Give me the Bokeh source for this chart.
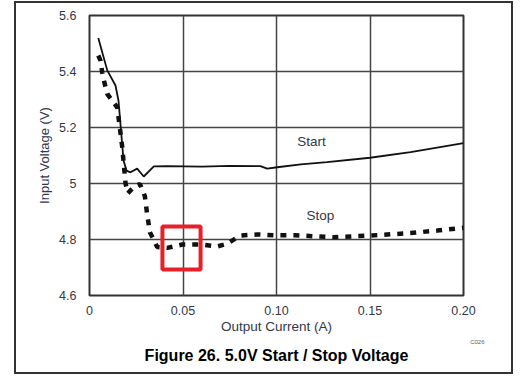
from bokeh.plotting import figure
from bokeh.models import Range1d, FixedTicker, Label, BoxAnnotation, Title, InlineStyleSheet
from bokeh.embed import file_html
from bokeh.resources import INLINE

# ---- data ----
start_x = [0.0047, 0.0095, 0.0139, 0.0155, 0.0182, 0.0198, 0.0219, 0.0255, 0.029, 0.0344,
           0.0415, 0.06, 0.075, 0.0914, 0.095, 0.1004, 0.113, 0.127, 0.15, 0.1717, 0.2]
start_y = [5.52, 5.404, 5.35, 5.296, 5.082, 5.046, 5.04, 5.053, 5.025, 5.061,
           5.062, 5.06, 5.063, 5.062, 5.053, 5.058, 5.068, 5.076, 5.092, 5.112, 5.144]

stop_x = [0.0047, 0.0059, 0.0068, 0.0077, 0.0095, 0.0121, 0.0148, 0.0162, 0.0175, 0.0184,
          0.0193, 0.0205, 0.024, 0.027, 0.0296, 0.0308, 0.0323, 0.0362, 0.0415, 0.0496,
          0.0594, 0.0683, 0.0736, 0.0807, 0.0897, 0.1, 0.11, 0.1305, 0.15, 0.1717, 0.186, 0.2]
stop_y = [5.457, 5.439, 5.397, 5.368, 5.32, 5.296, 5.272, 5.201, 5.13, 5.064,
          4.999, 4.965, 4.99, 4.998, 4.955, 4.892, 4.826, 4.773, 4.77, 4.782,
          4.782, 4.775, 4.785, 4.814, 4.818, 4.815, 4.815, 4.808, 4.814, 4.823, 4.832, 4.842]

x_ticks = [0, 0.05, 0.1, 0.15, 0.2]
x_tick_labels = ["0", "0.05", "0.10", "0.15", "0.20"]
y_ticks = [4.6, 4.8, 5.0, 5.2, 5.4, 5.6]
y_tick_labels = ["4.6", "4.8", "5", "5.2", "5.4", "5.6"]

# highlight box (data units)
hl_left, hl_right, hl_bottom, hl_top = 0.039, 0.0594, 4.693, 4.846

FONT = "Liberation Sans"
TICK_COLOR = "#33384a"

frame_css = InlineStyleSheet(css="""
:host { position: relative; }
:host::after {
  content: "";
  position: absolute;
  left: 14px; top: 1px; width: 499px; height: 373px;
  border: 2px solid #333333;
  box-sizing: border-box;
  pointer-events: none;
}
""")

p = figure(width=520, height=378, output_backend="svg", toolbar_location=None,
           x_range=Range1d(0, 0.2), y_range=Range1d(4.6, 5.6),
           min_border_left=89, min_border_right=57, min_border_top=15, min_border_bottom=83,
           stylesheets=[frame_css])
p.background_fill_color = "white"
p.border_fill_color = "white"
p.outline_line_color = "#333333"
p.outline_line_width = 2

p.xaxis.ticker = FixedTicker(ticks=x_ticks)
p.yaxis.ticker = FixedTicker(ticks=y_ticks)
p.xaxis.major_label_overrides = {t: l for t, l in zip(x_ticks, x_tick_labels)}
p.yaxis.major_label_overrides = {t: l for t, l in zip(y_ticks, y_tick_labels)}

for ax in (p.xaxis, p.yaxis):
    ax.axis_line_color = None
    ax.major_tick_line_color = None
    ax.minor_tick_line_color = None
    ax.major_label_text_font = FONT
    ax.major_label_text_font_size = "12.5px"
    ax.major_label_text_color = TICK_COLOR
    ax.axis_label_text_font = FONT
    ax.axis_label_text_font_style = "normal"
    ax.axis_label_text_color = TICK_COLOR

p.xaxis.axis_label = "Output Current (A)"
p.yaxis.axis_label = "Input Voltage (V)"
p.xaxis.axis_label_text_font_size = "13.5px"
p.yaxis.axis_label_text_font_size = "13px"
p.xaxis.major_label_standoff = 4
p.xaxis.axis_label_standoff = 1
p.yaxis.major_label_standoff = 7
p.yaxis.axis_label_standoff = 4

p.grid.grid_line_color = "#444444"
p.grid.grid_line_width = 1.5

p.line(start_x, start_y, line_color="#111111", line_width=1.8)
p.line(stop_x, stop_y, line_color="#111111", line_width=4.5, line_dash="6 7")

p.add_layout(Label(x=0.1187, y=5.15, text="Start", text_align="center", text_baseline="middle",
                   text_font=FONT, text_font_size="13.5px", text_color="#33384a"))
p.add_layout(Label(x=0.1235, y=4.886, text="Stop", text_align="center", text_baseline="middle",
                   text_font=FONT, text_font_size="13.5px", text_color="#33384a"))

p.add_layout(BoxAnnotation(left=hl_left, right=hl_right, bottom=hl_bottom, top=hl_top,
                           fill_alpha=0, line_color="#e8202a", line_alpha=1, line_width=4))

p.add_layout(Title(text="C026", align="right", offset=-21, standoff=0,
                   text_font=FONT, text_font_size="6px", text_font_style="normal",
                   text_color="#5a6070"), "below")
p.add_layout(Title(text="Figure 26. 5.0V Start / Stop Voltage", align="center", offset=10,
                   standoff=0, text_font=FONT, text_font_size="16px",
                   text_font_style="bold", text_color="#000000"), "below")

open("out.html", "w").write(file_html(p, INLINE))
